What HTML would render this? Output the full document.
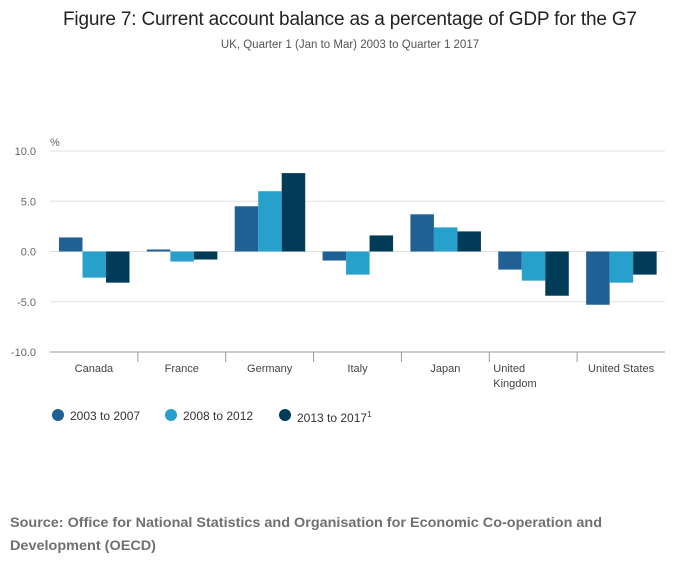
<!DOCTYPE html>
<html><head><meta charset="utf-8"><style>
body{margin:0;background:#fff;font-family:"Liberation Sans",sans-serif;}
</style></head><body>
<svg width="700" height="574" font-family="Liberation Sans, sans-serif">
<text x="350" y="25" text-anchor="middle" font-size="19" fill="#222" textLength="574">Figure 7: Current account balance as a percentage of GDP for the G7</text>
<text x="350" y="48" text-anchor="middle" font-size="11.5" fill="#555">UK, Quarter 1 (Jan to Mar) 2003 to Quarter 1 2017</text>
<text x="50" y="146" font-size="11" fill="#666">%</text>
<g id="grid"></g><g id="bars"></g><g id="xlab"></g>
<g>
<circle cx="58" cy="415" r="6" fill="#206095"/><text x="70" y="420" font-size="12" fill="#333">2003 to 2007</text>
<circle cx="171" cy="415" r="6" fill="#27a0cc"/><text x="183" y="420" font-size="12" fill="#333">2008 to 2012</text>
<circle cx="285" cy="415" r="6" fill="#003c57"/><text x="297" y="422" font-size="12" fill="#333">2013 to 2017<tspan font-size="8" dy="-5">1</tspan></text>
</g>
<text x="10" y="527" font-size="14" font-weight="bold" fill="#707070" textLength="592" lengthAdjust="spacingAndGlyphs">Source: Office for National Statistics and Organisation for Economic Co-operation and</text>
<text x="10" y="550" font-size="14" font-weight="bold" fill="#707070" textLength="146" lengthAdjust="spacingAndGlyphs">Development (OECD)</text>
</svg>
<script>
const categories=["Canada","France","Germany","Italy","Japan","United Kingdom","United States"];
const s2003=[1.4,0.2,4.5,-0.9,3.7,-1.8,-5.3];
const s2008=[-2.6,-1.0,6.0,-2.3,2.4,-2.9,-3.1];
const s2013=[-3.1,-0.8,7.8,1.6,2.0,-4.4,-2.3];
const ticks=[10,5,0,-5,-10];
const tickLabels=["10.0","5.0","0.0","-5.0","-10.0"];
const NS="http://www.w3.org/2000/svg";
const x0=50,x1=665,cw=(x1-x0)/categories.length;
const y=v=>251.5-v*10.05;
function mk(t,a,p){const e=document.createElementNS(NS,t);for(const k in a)e.setAttribute(k,a[k]);p.appendChild(e);return e;}
const g=document.getElementById('grid');
ticks.forEach((t,i)=>{
 const l=mk('line',{x1:x0,x2:x1,y1:y(t),y2:y(t),stroke:t===-10?'#999':'#e0e0e0','stroke-width':1},g);
 
 
 const tx=mk('text',{x:x0-14,y:y(t)+4,'text-anchor':'end','font-size':11,fill:'#666'},g);
 tx.textContent=tickLabels[i];
 
 
});
const b=document.getElementById('bars');
const series=[[s2003,'#206095'],[s2008,'#27a0cc'],[s2013,'#003c57']];
categories.forEach((c,i)=>{
 const cx=x0+i*cw;
 series.forEach(([s,col],j)=>{
  const v=s[i];const bx=cx+9+j*23.5;
  const r=mk('rect',{x:bx,y:Math.min(y(v),y(0)),width:23.5,height:Math.abs(y(v)-y(0)),fill:col},b);
  
  
 });
 if(i>0){const t=mk('line',{x1:cx,x2:cx,y1:352,y2:362,stroke:'#999'},g);
  
  }
 const xl=document.getElementById('xlab');
 if(c==="United Kingdom"){
  [["United",372],["Kingdom",387]].forEach(([w,yy])=>{const t=mk('text',{x:cx+4,y:yy,'font-size':11,fill:'#444'},xl);t.textContent=w;
  
  });
 } else {
  const t=mk('text',{x:cx+cw/2,y:372,'text-anchor':'middle','font-size':11,fill:'#444'},xl);t.textContent=c;
  
  
 }
});
</script>
</body></html>
